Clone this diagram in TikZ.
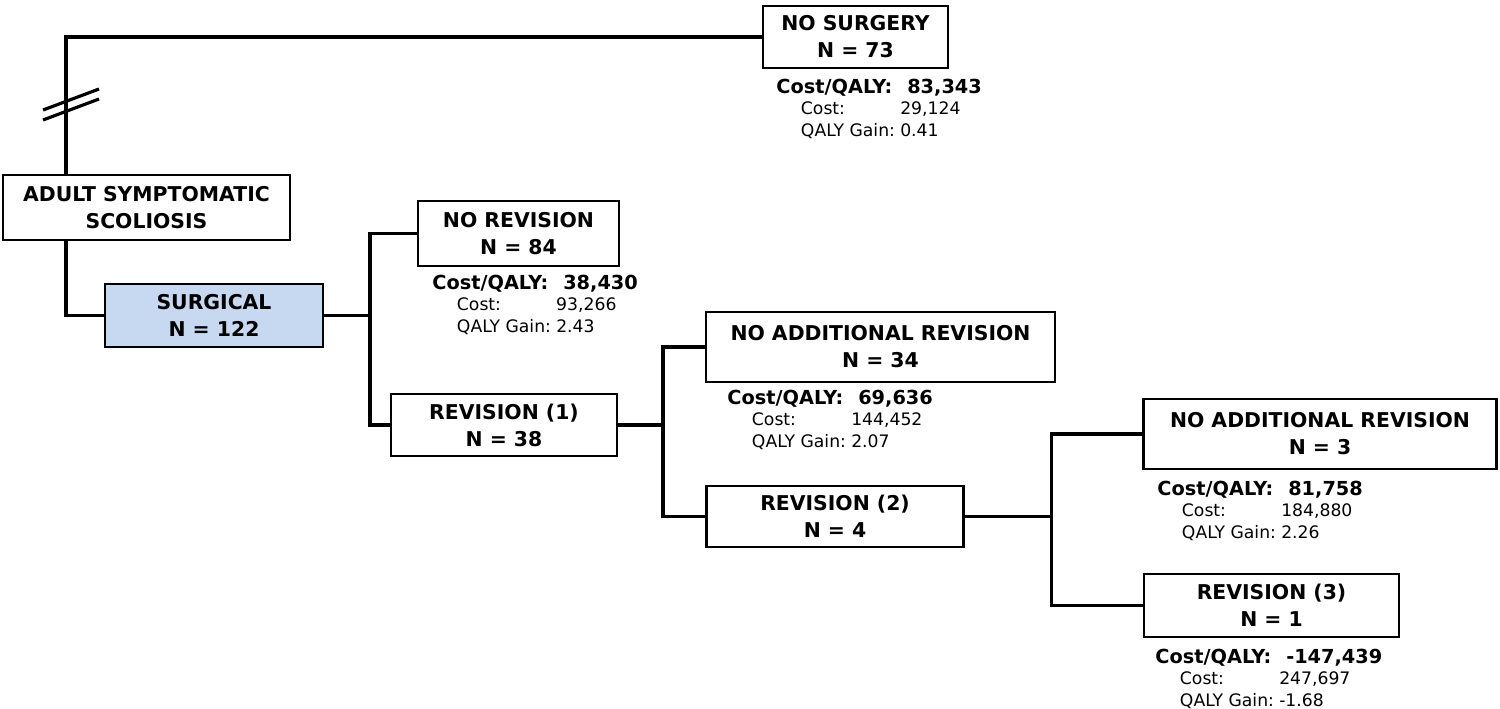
\documentclass[tikz,border=0pt]{standalone}
\usepackage{fontspec}
\setmainfont{DejaVu Sans}
\usepackage{xcolor}
\definecolor{surgblue}{HTML}{C6D9F1}

\newcommand{\cqinfo}[3]{%
  \begin{tabular}{@{}l@{\hspace{3pt}}l@{}}
  {\fontsize{11}{12.2}\selectfont\bfseries Cost/QALY:} & {\fontsize{11}{12.2}\selectfont\bfseries\hspace{4pt}#1}\\
  \hspace{14pt}Cost: & #2\\
  \hspace{14pt}QALY Gain: & #3
  \end{tabular}}

\begin{document}
\begin{tikzpicture}[x=0.02cm, y=-0.02cm,
  every node/.style={font=\fontsize{11.6}{15.3}\selectfont\bfseries},
  box/.style={draw, line width=1.3pt, align=center, inner sep=0pt},
  info/.style={anchor=north west, inner sep=0pt, font=\fontsize{9.8}{12.2}\selectfont},
  conn/.style={line width=2pt}]
\useasboundingbox (0,0) rectangle (1500,708);
\node[box, minimum width=5.74cm, minimum height=1.3cm] (A) at (146.5,207.5) {ADULT SYMPTOMATIC\\SCOLIOSIS};
\node[box, minimum width=3.7cm, minimum height=1.24cm] (B) at (855.5,37) {NO SURGERY\\N = 73};
\node[box, fill=surgblue, minimum width=4.36cm, minimum height=1.26cm] (C) at (214,315.5) {SURGICAL\\N = 122};
\node[box, minimum width=4.02cm, minimum height=1.3cm] (D) at (518.5,233.5) {NO REVISION\\N = 84};
\node[box, minimum width=4.52cm, minimum height=1.24cm] (E) at (504,425) {REVISION (1)\\N = 38};
\node[box, minimum width=6.98cm, minimum height=1.4cm] (F) at (880.5,347) {NO ADDITIONAL REVISION\\N = 34};
\node[box, minimum width=5.14cm, minimum height=1.22cm] (G) at (835,516.5) {REVISION (2)\\N = 4};
\node[box, minimum width=7.06cm, minimum height=1.4cm] (H) at (1320,434) {NO ADDITIONAL REVISION\\N = 3};
\node[box, minimum width=5.1cm, minimum height=1.26cm] (I) at (1271.5,605.5) {REVISION (3)\\N = 1};
% cost results
\node[info] (Bi) at (776,78) {\cqinfo{83,343}{29,124}{0.41}};
\node[info] (Di) at (432,274) {\cqinfo{38,430}{93,266}{2.43}};
\node[info] (Fi) at (727,389) {\cqinfo{69,636}{144,452}{2.07}};
\node[info] (Hi) at (1157,480) {\cqinfo{81,758}{184,880}{2.26}};
\node[info] (Ii) at (1155,648) {\cqinfo{-147,439}{247,697}{-1.68}};
% branches
\coordinate (j1) at ([xshift=0.92cm]C.east);
\coordinate (j2) at ([xshift=0.9cm]E.east);
\coordinate (j3) at ([xshift=1.74cm]G.east);
\draw[conn] ([xshift=1.28cm]A.north west) |- (B.west);
\draw[conn] ([xshift=1.28cm]A.south west) |- (C.west);
\draw[conn] (C.east) -- (j1) (j1) |- (D.west) (j1) |- (E.west);
\draw[conn] (E.east) -- (j2) (j2) |- (F.west) (j2) |- (G.west);
\draw[conn] (G.east) -- (j3) (j3) |- (H.west) (j3) |- (I.west);
% break mark
\draw[line width=1.8pt] (43,110) -- (99,89) (43,120) -- (99,99);
\end{tikzpicture}
\end{document}
